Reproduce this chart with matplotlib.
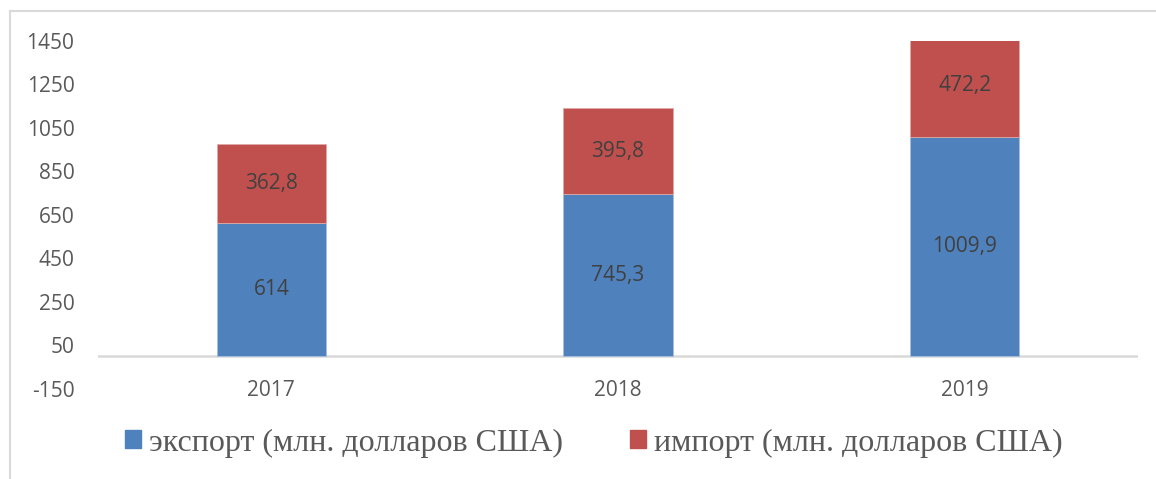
import matplotlib
matplotlib.use("Agg")
import matplotlib.pyplot as plt
from matplotlib.lines import Line2D
from matplotlib.patches import Patch

years = ["2017", "2018", "2019"]
export_vals = [614, 745.3, 1009.9]
import_vals = [362.8, 395.8, 472.2]
export_labels = ["614", "745,3", "1009,9"]
import_labels = ["362,8", "395,8", "472,2"]
y_ticks = [-150, 50, 250, 450, 650, 850, 1050, 1250, 1450]

blue = "#4F81BD"
red = "#C0504D"
grey_txt = "#595959"
line_col = "#D9D9D9"

fig = plt.figure(figsize=(11.56, 4.79), dpi=100)
ax = fig.add_axes([98 / 1156, 90.4 / 479, 1040 / 1156, 347.6 / 479])

x = list(range(len(years)))
ax.bar(x, export_vals, width=0.315, color=blue, edgecolor="#A7C0DE", linewidth=0.6)
ax.bar(x, import_vals, width=0.315, bottom=export_vals, color=red,
       edgecolor="#DFA8A6", linewidth=0.6)

for i in x:
    ax.text(i, export_vals[i] / 2, export_labels[i], ha="center", va="center",
            fontsize=15, color="#404040", family="Open Sans")
    ax.text(i, export_vals[i] + import_vals[i] / 2, import_labels[i], ha="center",
            va="center", fontsize=15, color="#404040", family="Open Sans")

ax.set_xlim(-0.5, 2.5)
ax.set_ylim(-150, 1450)
ax.axhline(0, color=line_col, lw=1.8, zorder=0)
for s in ax.spines.values():
    s.set_visible(False)

ax.set_yticks(y_ticks)
ax.set_yticklabels([str(t) for t in y_ticks], family="Open Sans", fontsize=15, color=grey_txt)
ax.set_xticks(x)
ax.set_xticklabels(years, family="Open Sans", fontsize=15, color=grey_txt)
ax.tick_params(axis="y", length=0, pad=17)
ax.tick_params(axis="x", length=0, pad=-6)

handles = [Patch(color=blue), Patch(color=red)]
fig.legend(handles, ["экспорт (млн. долларов США)", "импорт (млн. долларов США)"],
           loc="center", bbox_to_anchor=(594 / 1156, 1 - 443 / 479), ncol=2,
           frameon=False, handlelength=0.5, handleheight=0.5, handletextpad=0.25,
           columnspacing=2.1, prop={"family": "Liberation Serif", "size": 23},
           labelcolor=grey_txt)

# light frame around the chart area
fig.add_artist(Line2D([9.5 / 1156, 9.5 / 1156], [0, 1 - 11 / 479], color=line_col, lw=1.5))
fig.add_artist(Line2D([9.5 / 1156, 1], [1 - 11 / 479, 1 - 11 / 479], color=line_col, lw=1.5))

fig.savefig("out.png", dpi=100, facecolor="white")
